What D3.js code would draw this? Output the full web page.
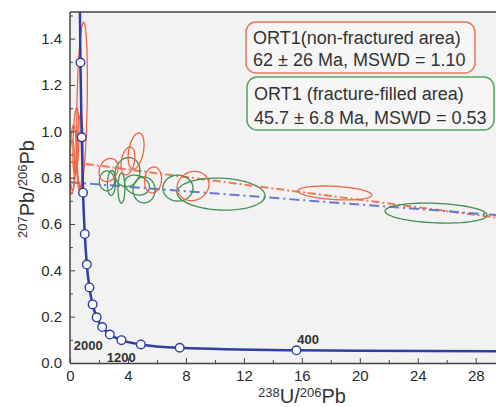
<!DOCTYPE html>
<html><head><meta charset="utf-8">
<script src="https://cdn.jsdelivr.net/npm/d3@7"></script>
<style>
html,body{margin:0;padding:0;background:#fff;}
svg{display:block;font-family:"Liberation Sans",Arial,sans-serif;}
</style></head>
<body>
<svg id="chart" width="496" height="407"></svg>
<script>
// ---- data ----
const xTickValues = [0, 4, 8, 12, 16, 20, 24, 28];
const xMinorTicks = [2, 6, 10, 14, 18, 22, 26, 30];
const yTickValues = [0.0, 0.2, 0.4, 0.6, 0.8, 1.0, 1.2, 1.4];
const yMinorTicks = [0.1, 0.3, 0.5, 0.7, 0.9, 1.1, 1.3, 1.5];

// Concordia age markers (Ma) and their 238U/206Pb, 207Pb/206Pb positions
const markerAges = [400, 800, 1200, 1600, 2000, 2400, 2800, 3200, 3600, 4000, 4400, 4800, 5200, 5600];
const markerX = [15.62, 7.57, 4.89, 3.55, 2.75, 2.22, 1.84, 1.56, 1.34, 1.16, 1.02, 0.90, 0.81, 0.72];
const markerY = [0.0547, 0.0658, 0.0801, 0.0987, 0.123, 0.155, 0.197, 0.253, 0.326, 0.425, 0.557, 0.735, 0.974, 1.297];
// concordia trace beyond the markers
const curveStartX = [30, 20], curveStartY = [0.0503, 0.0527];
const curveEndX = [0.651], curveEndY = [1.737];
const labelledAges = ["2000", "1200", "400"];

// Discordia lines (two end points each)
const redLineX = [0, 30], redLineY = [0.868, 0.623];
const blueLineX = [0, 30], blueLineY = [0.780, 0.636];

// ORT1 non-fractured area ellipses: centre, half-extent, correlation
const redX   = [0.83, 0.21, 0.41, 0.69, 0.14, 4.56, 4.00, 2.66, 5.73, 8.49, 18.29];
const redSX  = [0.37, 0.21, 0.21, 0.21, 0.17, 0.55, 0.48, 0.66, 0.59, 1.10, 2.55];
const redY   = [1.113, 0.887, 0.956, 0.909, 0.846, 0.915, 0.872, 0.833, 0.790, 0.764, 0.734];
const redSY  = [0.358, 0.140, 0.145, 0.162, 0.117, 0.078, 0.060, 0.050, 0.056, 0.063, 0.030];
const redRho = [0.3, 0.2, 0.3, 0.2, 0.1, 0.35, 0.3, 0.2, 0.1, 0.1, -0.3];

// ORT1 fracture-filled area ellipses
const greenX   = [2.55, 3.97, 2.86, 3.55, 4.62, 5.11, 7.45, 10.42, 25.26];
const greenSX  = [0.52, 0.86, 0.28, 0.24, 0.86, 0.76, 1.04, 3.04, 3.52];
const greenY   = [0.786, 0.824, 0.777, 0.755, 0.768, 0.747, 0.755, 0.729, 0.647];
const greenSY  = [0.043, 0.063, 0.054, 0.065, 0.043, 0.056, 0.056, 0.069, 0.043];
const greenRho = [0.0, 0.1, 0.1, 0.0, -0.2, 0.0, 0.0, -0.1, -0.2];

const legendLines = [
  ["ORT1(non-fractured area)", "62 \u00b1 26 Ma, MSWD = 1.10"],
  ["ORT1 (fracture-filled area)", "45.7 \u00b1 6.8 Ma, MSWD = 0.53"]
];

// ---- drawing ----
(function () {
const svg = d3.select("#chart");
const pLeft = 70, pBottom = 363, pTop = 12;
const x = d3.scaleLinear().domain([0, 30]).range([pLeft, pLeft + 30 * 14.49]);
const y = d3.scaleLinear().domain([0, 1.515]).range([pBottom, pTop]);
const pRight = x(30);

const RED = "#ee6542", GREEN = "#3f8f4f", BLUE = "#2f3ea3", LBLUE = "#6877d4";

svg.append("rect").attr("x", pLeft).attr("y", pTop).attr("width", pRight - pLeft).attr("height", pBottom - pTop)
  .attr("fill", "#f2f2f2");

svg.append("defs").append("clipPath").attr("id", "clip")
  .append("rect").attr("x", pLeft).attr("y", pTop).attr("width", pRight - pLeft).attr("height", pBottom - pTop);
const plot = svg.append("g").attr("clip-path", "url(#clip)");

function drawLine(xs, ys, color, dash) {
  plot.append("path")
    .datum(xs.map((v, i) => [v, ys[i]]))
    .attr("d", d3.line().x(d => x(d[0])).y(d => y(d[1])))
    .attr("fill", "none").attr("stroke", color).attr("stroke-width", 2)
    .attr("stroke-dasharray", dash);
}
drawLine(redLineX, redLineY, "#f07a55", "8,3,2,3");
drawLine(blueLineX, blueLineY, LBLUE, "10,4,2,4");

const tSteps = d3.range(0, 73).map(i => i / 72 * 2 * Math.PI);
function drawEllipses(cx, sx, cy, sy, rho, color) {
  cx.forEach((c, i) => {
    const pts = tSteps.map(t => [
      c + sx[i] * Math.cos(t),
      cy[i] + sy[i] * (rho[i] * Math.cos(t) + Math.sqrt(1 - rho[i] * rho[i]) * Math.sin(t))
    ]);
    plot.append("path")
      .attr("d", d3.line().x(d => x(d[0])).y(d => y(d[1])).curve(d3.curveLinearClosed)(pts))
      .attr("fill", "none").attr("stroke", color).attr("stroke-width", 1.3);
  });
}
drawEllipses(greenX, greenSX, greenY, greenSY, greenRho, GREEN);
drawEllipses(redX, redSX, redY, redSY, redRho, RED);

const tracePts = curveStartX.map((v, i) => [v, curveStartY[i]])
  .concat(markerX.map((v, i) => [v, markerY[i]]))
  .concat(curveEndX.map((v, i) => [v, curveEndY[i]]))
  .sort((a, b) => a[0] - b[0]);
plot.append("path")
  .attr("d", d3.line().x(d => x(d[0])).y(d => y(d[1])).curve(d3.curveMonotoneX)(tracePts))
  .attr("fill", "none").attr("stroke", BLUE).attr("stroke-width", 2.5);
plot.selectAll("circle.m").data(markerX.map((v, i) => [v, markerY[i]])).join("circle")
  .attr("class", "m").attr("cx", d => x(d[0])).attr("cy", d => y(d[1])).attr("r", 4.3)
  .attr("fill", "#fff").attr("stroke", BLUE).attr("stroke-width", 1.4);

const labelOffsets = {"2000": [-36, 15], "1200": [-34, 18], "400": [1, -6]};
labelledAges.forEach(a => {
  const i = markerAges.indexOf(+a);
  svg.append("text").attr("x", x(markerX[i]) + labelOffsets[a][0]).attr("y", y(markerY[i]) + labelOffsets[a][1])
    .attr("font-size", 13).attr("font-weight", "bold").attr("fill", "#333").text(a);
});

svg.append("line").attr("x1", pLeft).attr("x2", pRight).attr("y1", pTop).attr("y2", pTop)
  .attr("stroke", "#444").attr("stroke-width", 1.5);

svg.append("g").attr("transform", `translate(0,${pBottom})`)
  .call(d3.axisBottom(x).tickValues(xTickValues).tickFormat(d3.format("d")).tickSizeInner(-5).tickSizeOuter(0).tickPadding(7));
svg.append("g").attr("transform", `translate(0,${pBottom})`)
  .call(d3.axisBottom(x).tickValues(xMinorTicks).tickFormat("").tickSizeInner(-3).tickSizeOuter(0))
  .select(".domain").remove();
const yAxis = svg.append("g").attr("transform", `translate(${pLeft},0)`)
  .call(d3.axisLeft(y).tickValues(yTickValues).tickFormat(d3.format(".1f")).tickSizeInner(-5).tickSizeOuter(0).tickPadding(8));
svg.append("g").attr("transform", `translate(${pLeft},0)`)
  .call(d3.axisLeft(y).tickValues(yMinorTicks).tickFormat("").tickSizeInner(-3).tickSizeOuter(0))
  .select(".domain").remove();
svg.selectAll(".tick line").attr("stroke", "#444");
svg.selectAll(".domain").attr("stroke", "#444").attr("stroke-width", 1.5);
svg.selectAll(".tick text").attr("font-size", 15).attr("fill", "#2a2a2a")
  .attr("font-family", "'Liberation Sans', Arial, sans-serif");
yAxis.select(".domain").attr("d", `M0,${pBottom}V${pTop}`);

const xt = svg.append("text").attr("x", 258).attr("y", 403).attr("fill", "#333");
xt.append("tspan").attr("font-size", 13).attr("dy", -6).text("238");
xt.append("tspan").attr("font-size", 20).attr("dy", 6).text("U/");
xt.append("tspan").attr("font-size", 13).attr("dy", -6).text("206");
xt.append("tspan").attr("font-size", 20).attr("dy", 6).text("Pb");

const yt = svg.append("text").attr("transform", "translate(34,238) rotate(-90)").attr("fill", "#333");
yt.append("tspan").attr("font-size", 13).attr("dy", -7).text("207");
yt.append("tspan").attr("font-size", 20).attr("dy", 7).text("Pb/");
yt.append("tspan").attr("font-size", 13).attr("dy", -7).text("206");
yt.append("tspan").attr("font-size", 20).attr("dy", 7).text("Pb");

const boxes = [
  {x: 246, y: 22, w: 229, h: 51, color: "#e8775e", base: [43.5, 66]},
  {x: 247, y: 77, w: 247, h: 53, color: "#55a468", base: [99.5, 123.5]}
];
boxes.forEach((b, i) => {
  svg.append("rect").attr("x", b.x).attr("y", b.y).attr("width", b.w).attr("height", b.h)
    .attr("rx", 10).attr("fill", "#f6f6f6").attr("stroke", b.color).attr("stroke-width", 1.5);
  legendLines[i].forEach((t, j) => {
    svg.append("text").attr("x", b.x + 7).attr("y", b.base[j]).attr("font-size", 18)
      .attr("fill", "#333").text(t);
  });
});
})();
</script>
</body></html>
